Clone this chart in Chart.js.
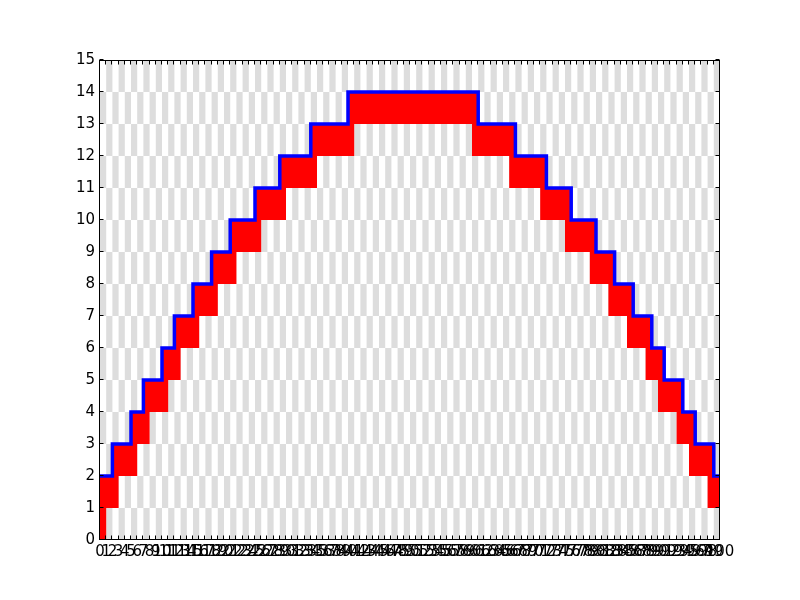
<!DOCTYPE html>
<html><head><meta charset="utf-8">
<script src="https://cdn.jsdelivr.net/npm/chart.js@4/dist/chart.umd.min.js"></script>
<style>html,body{margin:0;padding:0;background:#fff;}canvas{display:block;}</style>
</head><body>
<canvas id="c" width="800" height="600" style="width:800px;height:600px"></canvas>
<script>
// x range / y range of the axes
const xRange = [0, 100];
const yRange = [0, 15];

// blue step level of each unit column (column i spans x = i .. i+1)
const stepLevels = [
  2,2,3,3,3,4,4,5,5,5,
  6,6,7,7,7,8,8,8,9,9,
  9,10,10,10,10,11,11,11,11,12,
  12,12,12,12,13,13,13,13,13,13,
  14,14,14,14,14,14,14,14,14,14,
  14,14,14,14,14,14,14,14,14,14,
  14,13,13,13,13,13,13,12,12,12,
  12,12,11,11,11,11,10,10,10,10,
  9,9,9,8,8,8,7,7,7,6,
  6,5,5,5,4,4,3,3,3,2
];

// bottom of the red band in each column (top of the band = stepLevels)
const redLow = [
  0,1,1,2,2,2,3,3,4,4,
  4,5,5,6,6,6,7,7,7,8,
  8,8,9,9,9,9,10,10,10,10,
  11,11,11,11,11,12,12,12,12,12,
  12,13,13,13,13,13,13,13,13,13,
  13,13,13,13,13,13,13,13,13,13,
  12,12,12,12,12,12,11,11,11,11,
  11,10,10,10,10,9,9,9,9,8,
  8,8,7,7,7,6,6,6,5,5,
  4,4,4,3,3,2,2,2,1,1
];

function toSteps(arr) {
  const pts = arr.map((v, i) => ({x: i, y: v}));
  pts.push({x: arr.length, y: arr[arr.length - 1]});
  return pts;
}

const FONT = {family: 'DejaVu Sans', size: 15};

const checkerPlugin = {
  id: 'checker',
  beforeDatasetsDraw(chart) {
    const {ctx, chartArea, scales: {x, y}} = chart;
    ctx.save();
    ctx.beginPath();
    ctx.rect(chartArea.left, chartArea.top, chartArea.width, chartArea.height);
    ctx.clip();
    ctx.fillStyle = '#dddddd';
    for (let c = xRange[0]; c < xRange[1]; c++) {
      for (let r = yRange[0]; r < yRange[1]; r++) {
        if ((c + r) % 2 === 1) {
          const x0 = x.getPixelForValue(c), x1 = x.getPixelForValue(c + 1);
          const y0 = y.getPixelForValue(r), y1 = y.getPixelForValue(r + 1);
          ctx.fillRect(x0, y1, x1 - x0, y0 - y1);
        }
      }
    }
    ctx.restore();
  },
  afterDatasetsDraw(chart) {
    const {ctx, chartArea: a, scales: {x, y}} = chart;
    ctx.save();
    ctx.strokeStyle = '#000';
    ctx.lineWidth = 1;
    const L = Math.round(a.left) - 0.5, R = Math.round(a.right) - 0.5;
    const T = Math.round(a.top) + 0.5, B = Math.round(a.bottom) - 0.5;
    ctx.beginPath();
    const tl = 4;
    x.ticks.forEach(t => {
      const px = Math.round(x.getPixelForValue(t.value)) - 0.5;
      ctx.moveTo(px, B); ctx.lineTo(px, B - tl);
      ctx.moveTo(px, T); ctx.lineTo(px, T + tl);
    });
    y.ticks.forEach(t => {
      const py = Math.round(y.getPixelForValue(t.value)) - 0.5;
      ctx.moveTo(L, py); ctx.lineTo(L + tl, py);
      ctx.moveTo(R, py); ctx.lineTo(R - tl, py);
    });
    ctx.stroke();
    ctx.strokeRect(L, T, R - L, B - T);
    ctx.restore();
  }
};

new Chart(document.getElementById('c'), {
  type: 'line',
  data: {
    datasets: [
      {
        data: toSteps(stepLevels),
        stepped: 'before',
        borderColor: '#0000ff',
        borderWidth: 3.5,
        borderJoinStyle: 'miter',
        pointRadius: 0,
        fill: false
      },
      {
        data: toSteps(stepLevels),
        stepped: 'before',
        borderWidth: 0,
        borderColor: 'rgba(0,0,0,0)',
        backgroundColor: '#ff0000',
        pointRadius: 0,
        fill: 2
      },
      {
        data: toSteps(redLow),
        stepped: 'before',
        borderWidth: 0,
        borderColor: 'rgba(0,0,0,0)',
        pointRadius: 0,
        fill: false
      }
    ]
  },
  options: {
    responsive: false,
    animation: false,
    devicePixelRatio: 1,
    layout: {padding: {left: 0, right: 80, top: 60, bottom: 0}},
    plugins: {legend: {display: false}, tooltip: {enabled: false}},
    scales: {
      x: {
        type: 'linear', min: xRange[0], max: xRange[1],
        grid: {display: false, drawTicks: false}, border: {display: false},
        ticks: {stepSize: 1, autoSkip: false, maxRotation: 0, minRotation: 0,
                padding: 3, color: '#000', font: FONT, callback: v => String(v)},
        afterFit: s => { s.height = 60; }
      },
      y: {
        type: 'linear', min: yRange[0], max: yRange[1],
        grid: {display: false, drawTicks: false}, border: {display: false},
        ticks: {stepSize: 1, padding: 5, color: '#000', font: FONT, callback: v => String(v)},
        afterFit: s => { s.width = 100; }
      }
    }
  },
  plugins: [checkerPlugin]
});
</script>
</body></html>
